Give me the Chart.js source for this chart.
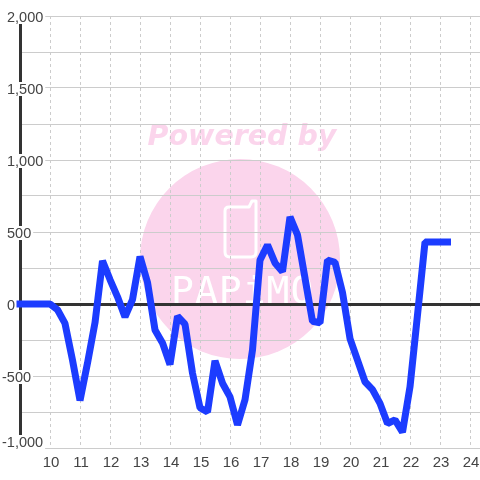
<!DOCTYPE html>
<html lang="en">
    <head>
        <meta charset="UTF-8" />
        <title>Powered by PAPiMO</title>
        <script src="https://cdnjs.cloudflare.com/ajax/libs/Chart.js/4.4.1/chart.umd.min.js"></script>
        <style>
            html, body { margin: 0; padding: 0; background: #fff; }
            canvas { display: block; }
        </style>
    </head>
    <body>
        <canvas id="canvas" width="480" height="480"></canvas>
        <script>
            var hours = [
                9, 9.25, 9.5, 9.75, 10, 10.25, 10.5, 10.75, 11, 11.25, 11.5, 11.75,
                12, 12.25, 12.5, 12.75, 13, 13.25, 13.5, 13.75, 14, 14.25, 14.5, 14.75,
                15, 15.25, 15.5, 15.75, 16, 16.25, 16.5, 16.75, 17, 17.25, 17.5, 17.75,
                18, 18.25, 18.5, 18.75, 19, 19.25, 19.5, 19.75, 20, 20.25, 20.5, 20.75,
                21, 21.25, 21.5, 21.75, 22, 22.25, 22.5, 22.75, 23, 23.25
            ];
            var power = [
                0, 0, 0, 0, 0, -40, -135, -390, -670, -410, -130, 300,
                170, 50, -90, 30, 330, 150, -180, -270, -420, -85, -140, -480,
                -720, -750, -395, -550, -645, -840, -665, -320, 305, 410, 285, 225,
                605, 480, 180, -120, -130, 305, 290, 80, -240, -390, -540, -595,
                -690, -830, -805, -890, -575, -75, 430, 430, 430, 430
            ];
            var yTickValues = [2000, 1500, 1000, 500, 0, -500, -1000];
            var yTickLabels = ["2,000", "1,500", "1,000", "500", "0", "-500", "-1,000"];
            var xMin = 9;
            var xMax = 24 + 1 / 3;

            var points = hours.map(function (h, i) {
                return { x: h, y: power[i] };
            });

            // logo behind the grid
            var watermark = {
                id: "watermark",
                beforeDraw: function (chart) {
                    var c = chart.ctx;
                    c.save();
                    c.fillStyle = "#fbd5ec";
                    c.beginPath();
                    c.arc(240, 259, 100, 0, Math.PI * 2);
                    c.fill();

                    c.font = "italic bold 28.5px 'DejaVu Sans'";
                    c.textAlign = "center";
                    c.textBaseline = "alphabetic";
                    c.fillText("Powered by", 242, 145);

                    c.strokeStyle = "#fff";
                    c.lineWidth = 3;
                    c.lineJoin = "round";
                    c.beginPath();
                    c.moveTo(229, 207);
                    c.lineTo(249, 207);
                    c.lineTo(252, 201);
                    c.lineTo(256, 201);
                    c.lineTo(256, 252);
                    c.quadraticCurveTo(256, 257, 251, 257);
                    c.lineTo(230, 257);
                    c.quadraticCurveTo(225, 257, 225, 252);
                    c.lineTo(225, 211);
                    c.quadraticCurveTo(225, 207, 229, 207);
                    c.stroke();

                    c.fillStyle = "#fff";
                    c.font = "38px 'DejaVu Sans Mono'";
                    c.letterSpacing = "1px";
                    c.textAlign = "left";
                    c.fillText("PAPiMO", 171, 303);
                    c.restore();
                },
                // y labels sit on top of the axis with a white box behind them
                beforeDatasetsDraw: function (chart) {
                    var c = chart.ctx;
                    var scale = chart.scales.y;
                    c.save();
                    c.font = "14.5px 'Liberation Sans'";
                    c.textBaseline = "middle";
                    c.textAlign = "left";
                    yTickValues.forEach(function (v, i) {
                        var y = scale.getPixelForValue(v);
                        if (v === -1000) y -= 7;
                        var x = v < 0 ? 2 : 7;
                        var w = c.measureText(yTickLabels[i]).width;
                        c.fillStyle = "#fff";
                        c.fillRect(x, y - 6, w + 2, 14);
                        c.fillStyle = "#444";
                        c.fillText(yTickLabels[i], x, y + 1.5);
                    });
                    c.restore();
                },
            };

            var config = {
                type: "line",
                data: {
                    datasets: [
                        {
                            data: points,
                            borderColor: "#1c3cff",
                            borderWidth: 7,
                            borderCapStyle: "square",
                            borderJoinStyle: "bevel",
                            pointRadius: 0,
                            fill: false,
                            tension: 0,
                            clip: false,
                        },
                    ],
                },
                options: {
                    responsive: false,
                    animation: false,
                    layout: { padding: { left: 20, top: 16, right: 0, bottom: 0 } },
                    plugins: { legend: { display: false }, tooltip: { enabled: false } },
                    scales: {
                        x: {
                            type: "linear",
                            min: xMin,
                            max: xMax,
                            afterFit: function (scale) {
                                scale.height = 32;
                                scale.paddingLeft = 0;
                                scale.paddingRight = 0;
                            },
                            border: { color: "#ccc", width: 1, dash: [3, 3] },
                            grid: {
                                color: "#ccc",
                                lineWidth: 1,
                                drawTicks: false,
                            },
                            ticks: {
                                stepSize: 1,
                                includeBounds: false,
                                autoSkip: false,
                                maxRotation: 0,
                                padding: 6,
                                labelOffset: 1,
                                color: "#444",
                                font: { family: "'Liberation Sans'", size: 15 },
                                callback: function (v) {
                                    return v === xMin ? "" : String(v);
                                },
                            },
                        },
                        y: {
                            min: -1000,
                            max: 2000,
                            afterFit: function (scale) {
                                scale.width = 0;
                            },
                            border: { color: "#333", width: 3 },
                            grid: {
                                drawTicks: false,
                                color: function (ctx) {
                                    return ctx.tick.value === 0 ? "#333" : "#ccc";
                                },
                                lineWidth: function (ctx) {
                                    return ctx.tick.value === 0 ? 3 : 1;
                                },
                            },
                            ticks: { stepSize: 250, display: false },
                        },
                    },
                },
            };

            var chart = new Chart(document.getElementById("canvas").getContext("2d"), {
                type: config.type,
                data: config.data,
                options: config.options,
                plugins: [watermark],
            });
        </script>
    </body>
</html>
